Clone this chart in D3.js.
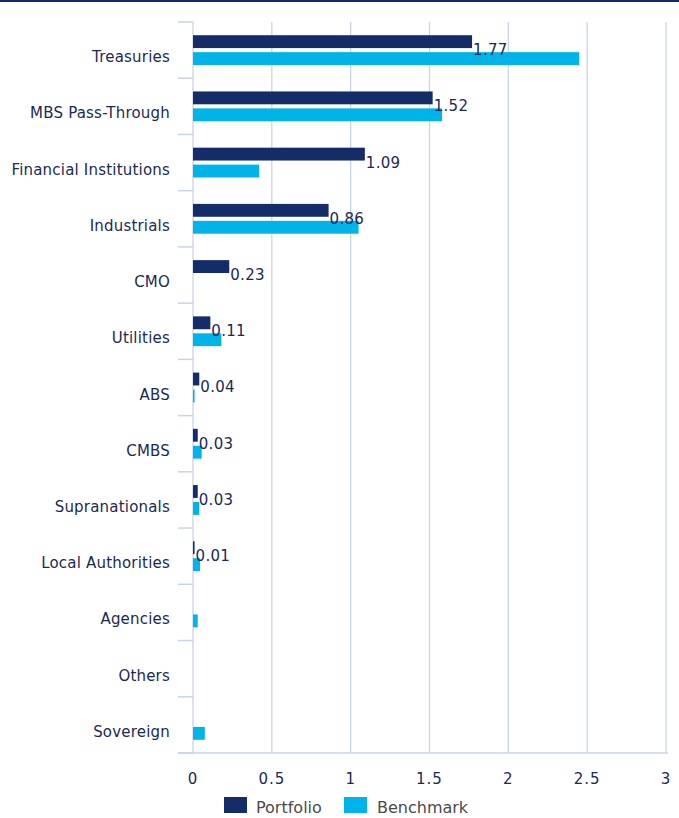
<!DOCTYPE html>
<html>
<head>
<meta charset="utf-8">
<script src="https://cdn.jsdelivr.net/npm/d3@7"></script>
<style>
  html, body { margin: 0; padding: 0; background: #fff; }
  svg { display: block; font-family: "DejaVu Sans", Verdana, sans-serif; }
</style>
</head>
<body>
<div id="chart"></div>
<script>
// Sector contribution data
const categories = [
  'Treasuries', 'MBS Pass-Through', 'Financial Institutions', 'Industrials',
  'CMO', 'Utilities', 'ABS', 'CMBS', 'Supranationals', 'Local Authorities',
  'Agencies', 'Others', 'Sovereign'
];
const portfolio = [1.77, 1.52, 1.09, 0.86, 0.23, 0.11, 0.04, 0.03, 0.03, 0.01, null, null, null];
const benchmark = [2.45, 1.58, 0.42, 1.05, 0, 0.18, 0.01, 0.055, 0.04, 0.045, 0.03, 0, 0.075];
const seriesNames = ['Portfolio', 'Benchmark'];
const xTicks = [0, 0.5, 1, 1.5, 2, 2.5, 3];

const width = 679, height = 818;
const margin = { top: 22, right: 13, bottom: 65, left: 193 };
const innerW = width - margin.left - margin.right;
const innerH = height - margin.top - margin.bottom;

const colors = { Portfolio: '#142d69', Benchmark: '#00b4ea' };
const gridColor = '#c9d5e6';
const textColor = '#1b2a55';

const svg = d3.select('#chart').append('svg')
  .attr('width', width)
  .attr('height', height);

// thin navy rule at the very top
svg.append('rect')
  .attr('x', 0).attr('y', 0)
  .attr('width', width).attr('height', 2)
  .attr('fill', '#14296b');

const g = svg.append('g')
  .attr('transform', `translate(${margin.left},${margin.top})`);

const x = d3.scaleLinear().domain([0, 3]).range([0, innerW]);
const y = d3.scaleBand().domain(categories).range([0, innerH]).padding(0);
const ySub = d3.scaleBand().domain(seriesNames).range([0, y.bandwidth()])
  .paddingInner(0.24).paddingOuter(0.78);

// vertical gridlines
g.selectAll('.grid')
  .data(xTicks)
  .enter().append('line')
  .attr('class', 'grid')
  .attr('x1', d => x(d)).attr('x2', d => x(d))
  .attr('y1', 0).attr('y2', innerH)
  .attr('stroke', gridColor)
  .attr('stroke-width', 1.3);

// left axis tick marks at band boundaries
const bounds = categories.map(c => y(c)).concat([innerH]);
g.selectAll('.ytick')
  .data(bounds)
  .enter().append('line')
  .attr('x1', -15).attr('x2', 0)
  .attr('y1', d => d).attr('y2', d => d)
  .attr('stroke', gridColor)
  .attr('stroke-width', 1.5);

// bottom axis line
g.append('line')
  .attr('x1', -15).attr('x2', innerW + 2)
  .attr('y1', innerH).attr('y2', innerH)
  .attr('stroke', gridColor)
  .attr('stroke-width', 1.5);

// category labels
g.selectAll('.cat')
  .data(categories)
  .enter().append('text')
  .attr('x', -23)
  .attr('y', d => y(d) + y.bandwidth() / 2 + 12)
  .attr('text-anchor', 'end')
  .style('font-size', '15px')
  .style('letter-spacing', '0.2px')
  .style('fill', textColor)
  .text(d => d);

// x tick labels
g.selectAll('.xlab')
  .data(xTicks)
  .enter().append('text')
  .attr('x', d => x(d))
  .attr('y', innerH + 31)
  .attr('text-anchor', 'middle')
  .style('font-size', '15px')
  .style('letter-spacing', '1px')
  .style('fill', textColor)
  .text(d => d);

// bars
const rows = categories.map((c, i) => ({ cat: c, Portfolio: portfolio[i], Benchmark: benchmark[i] }));
const groups = g.selectAll('.row')
  .data(rows)
  .enter().append('g')
  .attr('transform', d => `translate(0,${y(d.cat)})`);

groups.selectAll('rect')
  .data(d => seriesNames.map(s => ({ s, v: d[s] })).filter(e => e.v))
  .enter().append('rect')
  .attr('x', 0)
  .attr('y', e => ySub(e.s))
  .attr('width', e => x(e.v))
  .attr('height', ySub.bandwidth())
  .attr('fill', e => colors[e.s]);

// value labels for the portfolio series
groups.filter(d => d.Portfolio != null)
  .append('text')
  .attr('x', d => x(d.Portfolio) + 1)
  .attr('y', y.bandwidth() / 2 + 5)
  .style('font-size', '15px')
  .style('letter-spacing', '0.3px')
  .style('fill', textColor)
  .text(d => d.Portfolio.toFixed(2));

// legend
const legend = svg.append('g').attr('transform', 'translate(224,797)');
seriesNames.forEach((s, i) => {
  const lx = i * 120;
  legend.append('rect')
    .attr('x', lx).attr('y', 0)
    .attr('width', 23).attr('height', 16)
    .attr('fill', colors[s]);
  legend.append('text')
    .attr('x', lx + 32 + i * 1)
    .attr('y', 16)
    .style('font-size', '16px')
    .style('fill', '#4a4a4a')
    .text(s);
});
</script>
</body>
</html>
